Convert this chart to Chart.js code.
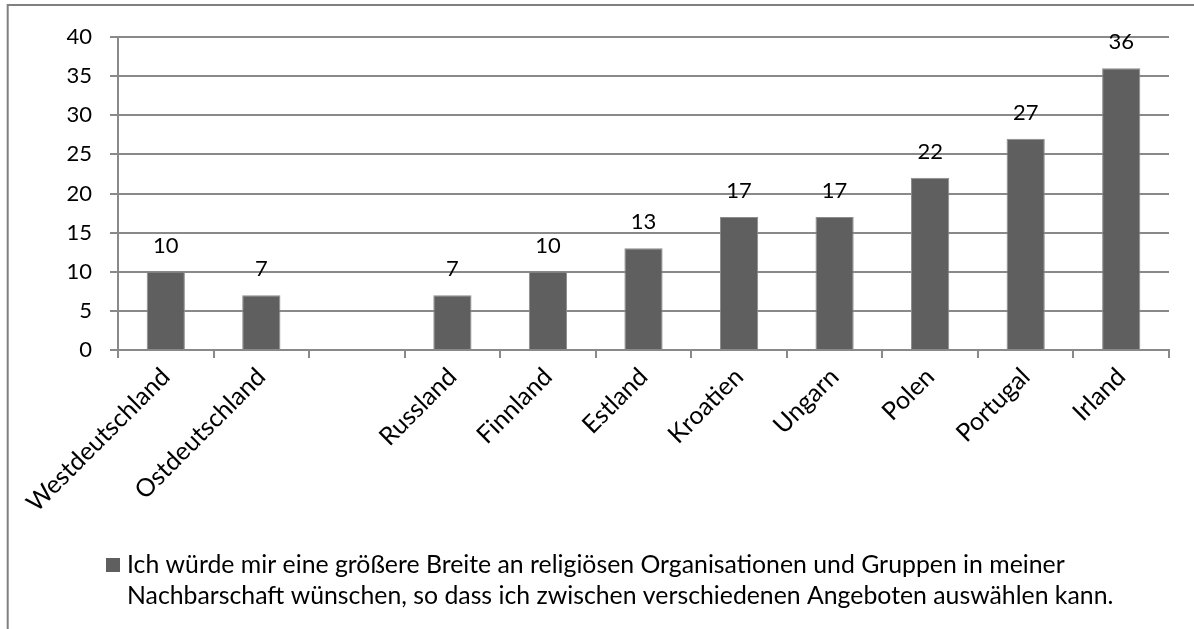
<!DOCTYPE html>
<html>
<head>
<meta charset="utf-8">
<script src="https://cdn.jsdelivr.net/npm/chart.js@4.4.1/dist/chart.umd.min.js"></script>
<style>
  html, body { margin: 0; padding: 0; background: #ffffff; }
  #c { display: block; }
</style>
</head>
<body>
<canvas id="c" width="1194" height="629"></canvas>
<script>
const categories = ['Westdeutschland', 'Ostdeutschland', '', 'Russland', 'Finnland', 'Estland', 'Kroatien', 'Ungarn', 'Polen', 'Portugal', 'Irland'];
const values = [10, 7, null, 7, 10, 13, 17, 17, 22, 27, 36];
const yTicks = [0, 5, 10, 15, 20, 25, 30, 35, 40];
const legendLines = [
  'Ich würde mir eine größere Breite an religiösen Organisationen und Gruppen in meiner',
  'Nachbarschaft wünschen, so dass ich zwischen verschiedenen Angeboten auswählen kann.'
];

const FONT = 'Lato';
const GRID = '#898989';
const BAR = '#5f5f5f';

const framePlugin = {
  id: 'frame',
  beforeDraw(chart) {
    const ctx = chart.ctx;
    ctx.save();
    ctx.fillStyle = '#ffffff';
    ctx.fillRect(0, 0, chart.width, chart.height);
    ctx.strokeStyle = '#808080';
    ctx.lineWidth = 2;
    ctx.beginPath();
    ctx.moveTo(7.7, chart.height);
    ctx.lineTo(7.7, 5);
    ctx.lineTo(chart.width, 5);
    ctx.stroke();
    ctx.restore();
  }
};

const valueLabels = {
  id: 'valueLabels',
  afterDatasetsDraw(chart) {
    const ctx = chart.ctx;
    const meta = chart.getDatasetMeta(0);
    ctx.save();
    ctx.font = '22px ' + FONT;
    ctx.fillStyle = '#000000';
    ctx.textAlign = 'center';
    ctx.textBaseline = 'alphabetic';
    meta.data.forEach((bar, i) => {
      const v = chart.data.datasets[0].data[i];
      if (v === null || v === undefined) return;
      ctx.fillText(String(v), bar.x, bar.y - 19);
    });
    ctx.restore();
  }
};

const customLegend = {
  id: 'customLegend',
  afterDraw(chart) {
    const ctx = chart.ctx;
    ctx.save();
    ctx.fillStyle = BAR;
    ctx.fillRect(106, 558, 14, 14);
    ctx.fillStyle = '#000000';
    ctx.textAlign = 'left';
    ctx.textBaseline = 'alphabetic';
    let size = 22;
    ctx.font = size + 'px ' + FONT;
    const w = ctx.measureText(legendLines[0]).width;
    size = size * 938 / w;
    ctx.font = size.toFixed(2) + 'px ' + FONT;
    ctx.fillText(legendLines[0], 127, 573);
    ctx.fillText(legendLines[1], 127, 604);
    ctx.restore();
  }
};

new Chart(document.getElementById('c'), {
  type: 'bar',
  data: {
    labels: categories,
    datasets: [{
      label: legendLines.join(' '),
      data: values,
      backgroundColor: BAR,
      borderColor: '#8c8c8c',
      borderWidth: 1,
      barPercentage: 0.4,
      categoryPercentage: 1.0
    }]
  },
  options: {
    responsive: false,
    animation: false,
    events: [],
    layout: { padding: { top: 37, right: 25, left: 0, bottom: 0 } },
    plugins: {
      legend: { display: false },
      tooltip: { enabled: false },
      title: { display: false }
    },
    scales: {
      x: {
        offset: true,
        grid: { drawOnChartArea: false, drawTicks: true, tickLength: 8, color: GRID, lineWidth: 2, offset: true },
        border: { color: GRID, width: 2 },
        ticks: {
          autoSkip: false,
          minRotation: 45,
          maxRotation: 45,
          padding: 4,
          color: '#000000',
          font: { family: FONT, size: 25 }
        },
        afterFit(scale) { scale.height = 279; }
      },
      y: {
        min: 0,
        max: 40,
        afterBuildTicks(scale) { scale.ticks = yTicks.map(v => ({ value: v })); },
        grid: { color: GRID, lineWidth: 2, tickLength: 8, drawTicks: true },
        border: { color: GRID, width: 2 },
        ticks: {
          padding: 18,
          color: '#000000',
          font: { family: FONT, size: 22 }
        },
        afterFit(scale) { scale.width = 118; }
      }
    }
  },
  plugins: [framePlugin, valueLabels, customLegend]
});
</script>
</body>
</html>
